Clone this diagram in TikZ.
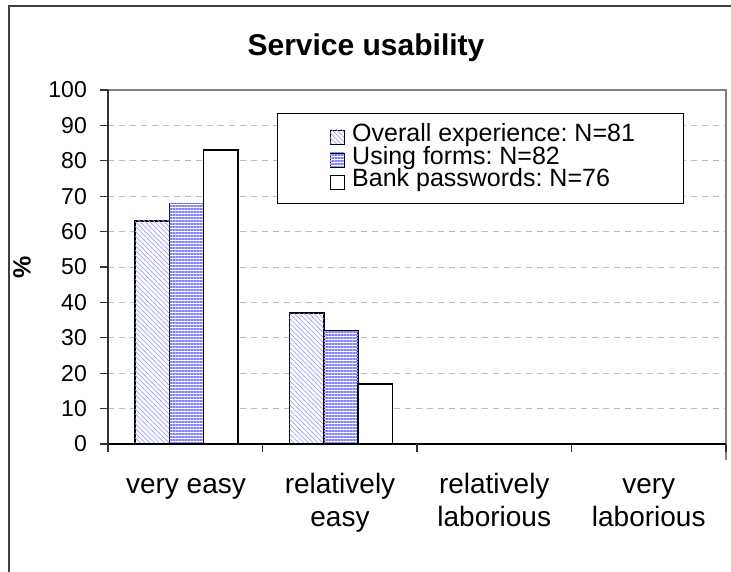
\documentclass[tikz,border=0pt]{standalone}
\usepackage{fontspec}
\setmainfont{Liberation Sans}
\usetikzlibrary{patterns.meta}
\definecolor{hatchA}{RGB}{160,160,255}
\definecolor{hatchB}{RGB}{130,130,250}
\definecolor{gridgray}{RGB}{190,190,190}
\definecolor{framegray}{RGB}{128,128,128}
\definecolor{outerframe}{RGB}{64,64,64}
\tikzset{
  barA/.style={draw=black, line width=1.4pt, fill=white, postaction={pattern={Lines[angle=-45,distance=3.4pt,line width=0.7pt]}, pattern color=hatchA}},
  barB/.style={draw=black, line width=1.4pt, fill=white, postaction={pattern={Lines[angle=0,distance=3pt,line width=1.1pt]}, pattern color=hatchB}},
  barC/.style={draw=black, line width=1.4pt, fill=white},
  mkA/.style={draw=black, line width=0.9pt, fill=white, postaction={pattern={Lines[angle=-45,distance=3.4pt,line width=0.7pt]}, pattern color=hatchA}},
  mkB/.style={draw=black, line width=0.9pt, fill=white, postaction={pattern={Lines[angle=0,distance=3pt,line width=1.1pt]}, pattern color=hatchB}},
  mkC/.style={draw=black, line width=0.9pt, fill=white},
  ticklab/.style={anchor=east, font=\fontsize{23}{27}\selectfont, inner sep=0pt},
  catlab/.style={anchor=north, align=center, font=\fontsize{28}{33}\selectfont, inner sep=0pt},
  leglab/.style={anchor=west, font=\fontsize{25}{29}\selectfont, inner sep=0pt, text height=17pt, text depth=5pt},
  gridline/.style={gridgray, line width=0.9pt, dash pattern=on 6pt off 5pt},
}
\frenchspacing
\begin{document}
\frenchspacing
\begin{tikzpicture}[x=1pt,y=-1pt]
\useasboundingbox (0,0) rectangle (731,572);
% outer frame (top and left only)
\draw[outerframe, line width=2pt] (9,572) -- (9,6) -- (731,6);
% title
\node[font=\bfseries\fontsize{30}{36}\selectfont, inner sep=0pt] (title) at (366,48) {Service usability};
% y-axis label
\node[font=\bfseries\fontsize{25}{30}\selectfont, rotate=90, inner sep=0pt] (ylab) at (22,267) {\%};
% grid lines
\foreach \v in {10,20,...,90} {
  \draw[gridline] (108,{444-3.54*\v}) -- (726,{444-3.54*\v});
}
% plot area border (top and right)
\draw[framegray, line width=1.2pt] (108,90) -- (726,90) -- (726,460);
% bars
\foreach \c/\a/\b/\d in {0/63/68/83, 1/37/32/17} {
  \pgfmathsetmacro\xo{108+154.5*\c+27}
  \draw[barA] (\xo,444) rectangle ++(34.3,{-3.54*\a});
  \draw[barB] ({\xo+34.3},444) rectangle ++(34.3,{-3.54*\b});
  \draw[barC] ({\xo+68.6},444) rectangle ++(34.3,{-3.54*\d});
}
% axes
\draw[black!80, line width=1.4pt] (108,90) -- (108,452);
\draw[black, line width=1.4pt] (100,444) -- (726,444);
\foreach \v in {0,10,...,100} {
  \draw[black!80, line width=1.2pt] (100,{444-3.54*\v}) -- (108,{444-3.54*\v});
  \node[ticklab] at (87,{444-3.54*\v}) {\v};
}
\foreach \i in {0,1,2,3,4} {
  \draw[black!80, line width=1.2pt] ({108+154.5*\i},444) -- ({108+154.5*\i},452);
}
% category labels
\node[catlab] (c1) at (186,470) {\strut very easy};
\node[catlab] (c2) at (340,470) {\strut relatively\\easy};
\node[catlab] (c3) at (494.25,470) {\strut relatively\\laborious};
\node[catlab] (c4) at (648.75,470) {\strut very\\laborious};
% legend
\draw[black, line width=1pt, fill=white] (277,114) rectangle (683,204);
\draw[mkA] (330,130) rectangle (344,144);
\draw[mkB] (330,153) rectangle (344,167);
\draw[mkC] (330,175) rectangle (344,189);
\node[leglab] (l1) at (352,136) {Overall experience: N=81};
\node[leglab] (l2) at (352,159) {Using forms: N=82};
\node[leglab] (l3) at (352,181) {Bank passwords: N=76};
\end{tikzpicture}
\end{document}
